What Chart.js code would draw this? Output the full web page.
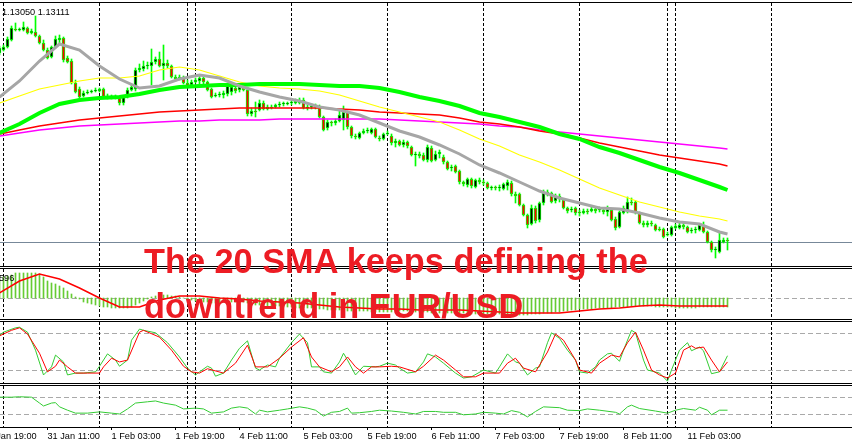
<!DOCTYPE html>
<html><head><meta charset="utf-8">
<script src="https://cdn.jsdelivr.net/npm/chart.js@4.4.1/dist/chart.umd.min.js"></script>
<style>
html,body{margin:0;padding:0;background:#fff;}
#wrap{position:relative;width:852px;height:448px;overflow:hidden;background:#fff;}
canvas{position:absolute;left:0;}
.hl{position:absolute;left:0;width:852px;height:1px;background:#000;}
.lbl{position:absolute;font-family:'Liberation Sans',Arial,sans-serif;font-size:9.2px;line-height:10px;color:#000;white-space:nowrap;}
.big{position:absolute;left:144px;font-family:'Liberation Sans',Arial,sans-serif;font-weight:bold;font-size:34.3px;line-height:34px;color:#ed1c24;white-space:nowrap;}
</style></head>
<body>
<div id="wrap">
<canvas id="cMain" width="852" height="263" style="top:3px"></canvas>
<canvas id="cMacd" width="852" height="50" style="top:269px"></canvas>
<canvas id="cStoch" width="852" height="61" style="top:322px"></canvas>
<canvas id="cRsi" width="852" height="62" style="top:386px"></canvas>
<div class="hl" style="top:2px"></div>
<div class="hl" style="top:266px"></div>
<div class="hl" style="top:268px"></div>
<div class="hl" style="top:319px"></div>
<div class="hl" style="top:321px"></div>
<div class="hl" style="top:383px"></div>
<div class="hl" style="top:385px"></div>
<div class="hl" style="top:427px"></div>
<div class="lbl" style="left:2px;top:7px">1.13050 1.13111</div>
<div class="lbl" style="left:-1px;top:273px">596</div>
<div class="big" style="top:244px">The 20 SMA keeps defining the</div>
<div class="big" style="top:289px">downtrend in EUR/USD</div>
</div>
<script>
// ---- H1 candles (bar 0 = 30 Jan 23:00) ----
const candleOpen = [1.1489,1.1492,1.1495,1.1502,1.1513,1.1512,1.1512,1.1514,1.1509,1.1510,
1.1506,1.1499,1.1492,1.1485,1.1495,1.1502,1.1504,1.1484,1.1481,1.1459,
1.1453,1.1446,1.1449,1.1450,1.1451,1.1451,1.1453,1.1445,1.1446,1.1445,
1.1445,1.1439,1.1445,1.1452,1.1453,1.1472,1.1473,1.1476,1.1476,1.1480,
1.1483,1.1476,1.1479,1.1476,1.1465,1.1463,1.1465,1.1459,1.1457,1.1460,
1.1461,1.1464,1.1460,1.1453,1.1446,1.1447,1.1447,1.1448,1.1450,1.1454,
1.1452,1.1456,1.1452,1.1428,1.1431,1.1432,1.1439,1.1433,1.1435,1.1435,
1.1437,1.1438,1.1438,1.1439,1.1439,1.1439,1.1442,1.1434,1.1435,1.1436,
1.1435,1.1425,1.1414,1.1420,1.1419,1.1421,1.1422,1.1430,1.1415,1.1406,
1.1404,1.1409,1.1411,1.1409,1.1413,1.1404,1.1403,1.1408,1.1406,1.1399,
1.1401,1.1397,1.1400,1.1395,1.1387,1.1388,1.1387,1.1382,1.1394,1.1382,
1.1388,1.1385,1.1380,1.1374,1.1376,1.1371,1.1360,1.1357,1.1363,1.1355,
1.1362,1.1360,1.1359,1.1354,1.1355,1.1354,1.1353,1.1356,1.1359,1.1348,
1.1348,1.1337,1.1327,1.1318,1.1334,1.1322,1.1339,1.1350,1.1349,1.1341,
1.1346,1.1342,1.1334,1.1332,1.1334,1.1330,1.1329,1.1331,1.1331,1.1333,
1.1332,1.1332,1.1330,1.1332,1.1323,1.1315,1.1329,1.1330,1.1340,1.1340,
1.1329,1.1319,1.1317,1.1319,1.1317,1.1313,1.1313,1.1307,1.1307,1.1314,
1.1314,1.1317,1.1315,1.1311,1.1312,1.1312,1.1316,1.1310,1.1300,1.1292,
1.1290,1.1300,1.1302];
const candleHigh = [1.1496,1.1497,1.1505,1.1516,1.1519,1.1514,1.1520,1.1515,1.1513,1.1526,
1.1507,1.1502,1.1494,1.1496,1.1506,1.1507,1.1505,1.1486,1.1483,1.1462,
1.1455,1.1451,1.1452,1.1452,1.1454,1.1454,1.1454,1.1448,1.1447,1.1447,
1.1446,1.1446,1.1454,1.1457,1.1474,1.1478,1.1481,1.1480,1.1493,1.1485,
1.1490,1.1497,1.1482,1.1477,1.1467,1.1467,1.1466,1.1462,1.1462,1.1464,
1.1467,1.1466,1.1461,1.1454,1.1449,1.1450,1.1451,1.1458,1.1457,1.1456,
1.1458,1.1458,1.1454,1.1434,1.1440,1.1442,1.1441,1.1437,1.1437,1.1438,
1.1440,1.1440,1.1440,1.1441,1.1443,1.1444,1.1444,1.1437,1.1438,1.1438,
1.1437,1.1426,1.1422,1.1421,1.1423,1.1432,1.1436,1.1431,1.1416,1.1408,
1.1410,1.1413,1.1414,1.1414,1.1414,1.1406,1.1409,1.1411,1.1408,1.1403,
1.1402,1.1402,1.1401,1.1396,1.1390,1.1390,1.1389,1.1397,1.1396,1.1391,
1.1392,1.1387,1.1381,1.1377,1.1377,1.1372,1.1361,1.1364,1.1364,1.1363,
1.1364,1.1362,1.1360,1.1356,1.1356,1.1357,1.1359,1.1362,1.1361,1.1350,
1.1349,1.1338,1.1328,1.1337,1.1336,1.1340,1.1352,1.1352,1.1350,1.1348,
1.1348,1.1343,1.1335,1.1335,1.1335,1.1332,1.1333,1.1333,1.1335,1.1334,
1.1335,1.1334,1.1336,1.1333,1.1325,1.1331,1.1336,1.1345,1.1344,1.1341,
1.1330,1.1321,1.1321,1.1321,1.1318,1.1315,1.1314,1.1310,1.1316,1.1318,
1.1319,1.1319,1.1316,1.1314,1.1315,1.1318,1.1320,1.1311,1.1301,1.1295,
1.1310,1.1304,1.1304];
const candleLow = [1.1487,1.1491,1.1494,1.1501,1.1511,1.1511,1.1511,1.1508,1.1508,1.1505,
1.1498,1.1491,1.1483,1.1484,1.1494,1.1499,1.1480,1.1479,1.1458,1.1449,
1.1443,1.1445,1.1448,1.1449,1.1450,1.1450,1.1444,1.1443,1.1443,1.1443,
1.1437,1.1437,1.1444,1.1451,1.1451,1.1470,1.1471,1.1473,1.1457,1.1478,
1.1475,1.1462,1.1474,1.1464,1.1461,1.1462,1.1458,1.1454,1.1456,1.1459,
1.1458,1.1458,1.1451,1.1444,1.1445,1.1445,1.1444,1.1446,1.1447,1.1449,
1.1450,1.1451,1.1426,1.1426,1.1425,1.1431,1.1432,1.1432,1.1433,1.1434,
1.1435,1.1436,1.1437,1.1437,1.1438,1.1438,1.1433,1.1432,1.1433,1.1433,
1.1424,1.1411,1.1412,1.1416,1.1417,1.1420,1.1412,1.1413,1.1404,1.1403,
1.1403,1.1408,1.1409,1.1408,1.1404,1.1401,1.1402,1.1407,1.1397,1.1395,
1.1396,1.1395,1.1394,1.1386,1.1376,1.1384,1.1381,1.1380,1.1380,1.1381,
1.1384,1.1378,1.1372,1.1371,1.1369,1.1358,1.1356,1.1355,1.1354,1.1354,
1.1358,1.1357,1.1353,1.1352,1.1352,1.1351,1.1352,1.1352,1.1346,1.1339,
1.1336,1.1326,1.1314,1.1317,1.1319,1.1320,1.1337,1.1346,1.1339,1.1339,
1.1340,1.1333,1.1329,1.1330,1.1327,1.1326,1.1328,1.1328,1.1330,1.1329,
1.1330,1.1328,1.1326,1.1321,1.1312,1.1314,1.1328,1.1329,1.1337,1.1328,
1.1318,1.1315,1.1315,1.1316,1.1311,1.1311,1.1304,1.1306,1.1306,1.1313,
1.1313,1.1313,1.1309,1.1309,1.1309,1.1311,1.1309,1.1299,1.1290,1.1284,
1.1289,1.1299,1.1292];
const candleClose = [1.1494,1.1495,1.1503,1.1514,1.1512,1.1513,1.1515,1.1509,1.1511,1.1506,
1.1499,1.1492,1.1484,1.1495,1.1503,1.1504,1.1482,1.1480,1.1459,1.1450,
1.1445,1.1449,1.1450,1.1451,1.1452,1.1453,1.1445,1.1446,1.1445,1.1444,
1.1439,1.1445,1.1452,1.1455,1.1472,1.1474,1.1476,1.1477,1.1480,1.1483,
1.1476,1.1479,1.1476,1.1465,1.1463,1.1465,1.1459,1.1456,1.1460,1.1462,
1.1464,1.1460,1.1452,1.1445,1.1447,1.1448,1.1449,1.1456,1.1455,1.1451,
1.1455,1.1452,1.1428,1.1431,1.1430,1.1439,1.1433,1.1435,1.1434,1.1437,
1.1438,1.1439,1.1439,1.1439,1.1441,1.1442,1.1434,1.1435,1.1436,1.1435,
1.1425,1.1412,1.1420,1.1419,1.1421,1.1427,1.1430,1.1415,1.1406,1.1405,
1.1409,1.1411,1.1412,1.1413,1.1405,1.1403,1.1408,1.1409,1.1399,1.1401,
1.1397,1.1400,1.1396,1.1387,1.1388,1.1386,1.1382,1.1395,1.1381,1.1388,
1.1390,1.1380,1.1373,1.1375,1.1370,1.1360,1.1358,1.1363,1.1356,1.1362,
1.1360,1.1359,1.1354,1.1355,1.1354,1.1355,1.1358,1.1360,1.1348,1.1346,
1.1337,1.1327,1.1317,1.1334,1.1321,1.1339,1.1350,1.1348,1.1340,1.1346,
1.1343,1.1334,1.1331,1.1333,1.1329,1.1329,1.1331,1.1330,1.1333,1.1331,
1.1333,1.1330,1.1333,1.1322,1.1314,1.1330,1.1334,1.1340,1.1339,1.1329,
1.1319,1.1317,1.1319,1.1318,1.1312,1.1312,1.1305,1.1308,1.1315,1.1316,
1.1317,1.1315,1.1310,1.1312,1.1313,1.1317,1.1310,1.1300,1.1292,1.1293,
1.1302,1.1302,1.1301];

// ---- moving averages, sampled at these bars ----
const maBars = [0,5,10,15,20,25,30,35,40,45,50,55,60,65,70,75,80,85,90,95,100,105,110,115,120,125,130,135,140,145,150,155,160,165,170,175,180,182];
const sma20 = [1.1445,1.1461,1.1481,1.1498,1.1492,1.1476,1.1463,1.1454,1.1456,1.1463,1.1467,1.1464,1.1456,1.1450,1.1445,1.1441,1.1435,1.1432,1.1427,1.1419,1.1411,1.1405,1.1397,1.1388,1.1377,1.1369,1.1360,1.1351,1.1344,1.1339,1.1334,1.1333,1.1329,1.1324,1.1320,1.1318,1.1310,1.1308];
const maYellow = [1.1439,1.1446,1.1453,1.1457,1.1461,1.1464,1.1464,1.1466,1.1472,1.1475,1.1472,1.1466,1.1460,1.1456,1.1454,1.1453,1.1451,1.1447,1.1441,1.1435,1.1430,1.1425,1.1420,1.1412,1.1403,1.1396,1.1387,1.1380,1.1372,1.1363,1.1354,1.1347,1.1340,1.1335,1.1330,1.1326,1.1323,1.1321];
const maGreen = [1.1409,1.1418,1.1429,1.1438,1.1442,1.1444,1.1445,1.1448,1.1452,1.1455,1.1456,1.1457,1.1457,1.1458,1.1458,1.1458,1.1457,1.1456,1.1456,1.1454,1.1450,1.1445,1.1441,1.1436,1.1429,1.1425,1.1420,1.1415,1.1408,1.1403,1.1395,1.1389,1.1382,1.1375,1.1369,1.1362,1.1355,1.1352];
const maRed = [1.1408,1.1412,1.1416,1.1419,1.1422,1.1424,1.1426,1.1428,1.1430,1.1431,1.1432,1.1433,1.1434,1.1434,1.1434,1.1434,1.1434,1.1433,1.1432,1.1430,1.1429,1.1428,1.1427,1.1424,1.1420,1.1418,1.1415,1.1411,1.1408,1.1404,1.1399,1.1395,1.1391,1.1387,1.1384,1.1381,1.1378,1.1376];
const maMagenta = [1.1406,1.1409,1.1412,1.1414,1.1416,1.1417,1.1418,1.1419,1.1420,1.1421,1.1421,1.1422,1.1422,1.1422,1.1423,1.1423,1.1423,1.1423,1.1423,1.1423,1.1422,1.1421,1.1420,1.1419,1.1418,1.1416,1.1415,1.1412,1.1410,1.1408,1.1406,1.1404,1.1402,1.1400,1.1398,1.1396,1.1394,1.1393];
const bidPrice = 1.1300;

// ---- MACD ----
const macdHist = [0.00038,0.00042,0.00044,0.00046,0.0005,0.0005,0.0005,0.0005,0.0005,0.0005,
0.00048,0.00042,0.00034,0.0003,0.00028,0.00024,0.0002,0.00014,0.00008,0.00002,
-0.00002,-0.00008,-0.0001,-0.00012,-0.00014,-0.00016,-0.00018,-0.00018,-0.0002,-0.0002,
-0.0002,-0.0002,-0.0002,-0.00018,-0.00014,-0.0001,-0.00006,-0.00002,0.00002,0.00004,
0.00006,0.00006,0.00006,0.00004,0.00004,0.00002,0,-0.00002,-0.00004,-0.00006,
-0.00008,-0.00008,-0.00008,-0.0001,-0.0001,-0.0001,-0.00008,-0.00008,-0.00008,-0.00008,
-0.00008,-0.00008,-0.0001,-0.00012,-0.00014,-0.00014,-0.00014,-0.00016,-0.00016,-0.00016,
-0.00016,-0.00018,-0.00018,-0.00018,-0.0002,-0.0002,-0.0002,-0.0002,-0.0002,-0.00022,
-0.00022,-0.00022,-0.00024,-0.00024,-0.00024,-0.00024,-0.00024,-0.00026,-0.00026,-0.00026,
-0.00026,
-0.00026,-0.00026,-0.00028,-0.00028,-0.00028,-0.00028,-0.00028,-0.00028,-0.00028,-0.00026,
-0.00026,-0.00026,-0.00026,-0.00028,-0.00028,-0.00028,-0.00028,-0.0003,-0.0003,-0.0003,
-0.0003,-0.0003,-0.0003,-0.0003,-0.0003,-0.0003,-0.0003,-0.00032,-0.00032,-0.00032,
-0.00032,-0.00032,-0.00032,-0.00032,-0.00032,-0.00032,-0.00032,-0.00034,-0.00034,-0.00034,
-0.00034,-0.00034,-0.00032,-0.00032,-0.00032,-0.0003,-0.0003,-0.0003,-0.00028,-0.00028,-0.00026,-0.00026,-0.00024,-0.00024,-0.00022,
-0.00022,-0.00022,-0.00022,-0.0002,-0.0002,-0.0002,-0.0002,-0.0002,-0.00018,-0.00018,
-0.00018,-0.00018,-0.00016,-0.00016,-0.00016,-0.00016,-0.00016,-0.00016,-0.00018,-0.00018,
-0.00018,-0.00018,-0.00018,-0.0002,-0.0002,-0.0002,-0.0002,-0.0002,-0.0002,-0.00018,
-0.00018,-0.00018,-0.00018,-0.00018,-0.00018,-0.00018,-0.00018];
const macdSignal = [0.0001,0.00034,0.00048,0.00038,0.0002,0,-0.00018,-0.00018,-0.00004,0.00004,0.00004,0,-0.00002,-0.00006,-0.00008,-0.0001,-0.00014,-0.00018,-0.0002,-0.00022,-0.00022,-0.00024,-0.00024,-0.00024,-0.00026,-0.00028,-0.0003,-0.0003,-0.0003,-0.00026,-0.00022,-0.0002,-0.00016,-0.00014,-0.00016,-0.00016,-0.00016,-0.00016];

// ---- Stochastic ----
const stochMainBars = [0,1,4,5,7,9,11,13,14,16,17,19,21,24,25,27,29,30,32,33,35,36,39,42,45,47,49,50,52,53,54,56,58,60,62,64,65,67,69,70,73,75,77,78,80,81,83,85,86,87,89,91,94,95,97,99,100,102,104,106,107,109,111,114,116,118,121,124,125,127,129,130,132,134,135,137,138,140,142,144,145,147,149,150,152,153,155,156,158,159,161,162,165,167,168,170,172,173,175,176,178,180,182];
const stochMain = [77,82,89,90,82,53,13,26,45,34,13,16,16,18,27,47,37,27,37,69,87,85,81,65,42,24,13,18,27,24,11,16,37,56,68,24,21,29,26,40,65,79,65,26,26,18,16,34,48,37,13,27,26,27,32,29,24,16,18,34,47,42,32,16,8,10,21,16,26,47,34,32,13,24,26,65,81,72,53,37,18,16,26,37,47,48,35,53,85,81,37,21,16,3,21,53,65,52,58,52,15,18,44];
const stochSignalBars = [0,3,5,7,10,12,14,15,17,19,22,25,26,28,30,32,35,36,40,43,46,48,50,52,56,59,62,64,67,70,73,76,78,80,83,85,87,89,91,93,95,98,100,104,106,109,111,114,116,119,121,125,127,129,131,134,137,139,141,144,145,148,150,153,155,157,159,161,163,165,167,169,171,173,174,176,178,180,182];
const stochSignal = [76,85,89,79,48,18,27,37,26,16,16,16,26,40,34,37,82,85,74,53,27,18,16,23,16,32,61,26,26,40,58,73,42,26,18,26,42,26,16,26,26,27,26,18,27,45,37,21,10,10,16,16,32,40,24,18,50,79,69,37,21,16,32,45,42,65,82,53,21,13,8,16,53,60,56,58,37,18,34];

// ---- RSI ----
const rsiBars = [0,3,5,8,10,11,13,14,15,17,19,22,25,28,30,32,34,37,39,41,44,46,49,51,53,56,58,60,62,64,65,67,70,72,75,77,79,81,83,85,87,88,90,93,95,98,101,104,106,109,111,114,116,119,121,124,126,128,130,132,134,136,140,142,145,147,150,154,155,157,158,160,164,167,169,171,174,175,177,178,180,182];
const rsiValues = [71,71,72,71,57,50,57,58,48,40,33,33,36,33,31,43,57,60,62,57,52,43,45,43,33,36,45,48,45,31,40,36,40,43,48,45,40,26,35,37,45,33,34,37,40,38,35,31,37,37,35,35,29,31,35,33,31,39,35,24,37,48,46,40,39,43,40,35,31,48,52,44,38,33,40,44,40,47,40,29,40,40];

// ---- time axis ----
const separatorBars = [1,25,47,49,73,97,121,145,167,169,193];
const tickBars = [-4,12,28,44,60,76,92,108,124,140,156,172];
const tickLabels = ['30 Jan 19:00','31 Jan 11:00','1 Feb 03:00','1 Feb 19:00','4 Feb 11:00','5 Feb 03:00','5 Feb 19:00','6 Feb 11:00','7 Feb 03:00','7 Feb 19:00','8 Feb 11:00','11 Feb 03:00'];

const X_MIN = 0.125, X_MAX = 213.125;
const barIdx = candleOpen.map((_, i) => i);
const pts = (xs, ys) => xs.map((b, k) => ({x: b, y: ys[k]}));

const paneDecor = {
  id: 'paneDecor',
  beforeDatasetsDraw(chart, args, opts) {
    const {ctx, chartArea: a, scales} = chart;
    const x = scales.x, y = scales.y;
    ctx.save();
    ctx.beginPath(); ctx.rect(a.left, a.top, a.right - a.left, a.bottom - a.top); ctx.clip();
    ctx.lineWidth = 1;
    (opts.levels || []).forEach(v => {
      const py = Math.floor(y.getPixelForValue(v)) + 0.5;
      ctx.strokeStyle = '#a9a9a9'; ctx.setLineDash([5, 3]);
      ctx.beginPath(); ctx.moveTo(a.left, py); ctx.lineTo(a.right, py); ctx.stroke();
    });
    if (opts.bid !== undefined) {
      const py = Math.floor(y.getPixelForValue(opts.bid)) + 0.5;
      ctx.setLineDash([]); ctx.strokeStyle = '#778899';
      ctx.beginPath(); ctx.moveTo(a.left, py); ctx.lineTo(a.right, py); ctx.stroke();
    }
    ctx.strokeStyle = '#000'; ctx.setLineDash([3, 2]);
    separatorBars.forEach(b => {
      const px = Math.floor(x.getPixelForValue(b)) + 0.5;
      ctx.beginPath(); ctx.moveTo(px, a.top); ctx.lineTo(px, a.bottom); ctx.stroke();
    });
    ctx.restore();
  }
};

const hiddenX = {type: 'linear', min: X_MIN, max: X_MAX, offset: false, display: false};
const baseOpts = (yMin, yMax, decor) => ({
  responsive: false, animation: false, events: [],
  layout: {padding: 0},
  plugins: {legend: {display: false}, tooltip: {enabled: false}, paneDecor: decor},
  scales: {x: hiddenX, y: {min: yMin, max: yMax, display: false}}
});
const lineDs = (data, color, width, order) => ({type: 'line', data, borderColor: color, borderWidth: width, pointRadius: 0, tension: 0, fill: false, order});

new Chart(document.getElementById('cMain'), {
  type: 'bar',
  data: {datasets: [
    lineDs(pts(maBars, sma20), '#a6a6a6', 3, 0),
    lineDs(pts(maBars, maGreen), '#00ff00', 4, 1),
    lineDs(pts(maBars, maYellow), '#ffff00', 1.2, 2),
    lineDs(pts(maBars, maRed), '#ff0000', 1.5, 3),
    lineDs(pts(maBars, maMagenta), '#ff00ff', 1.5, 4),
    {data: barIdx.map(i => ({x: i, y: [candleOpen[i], candleClose[i]]})),
     backgroundColor: barIdx.map(i => candleClose[i] >= candleOpen[i] ? '#000000' : '#ff0000'),
     borderColor: '#00ff00', borderWidth: 1, borderSkipped: false, barThickness: 3, grouped: false, minBarLength: 1, order: 5},
    {data: barIdx.map(i => ({x: i, y: [candleLow[i], candleHigh[i]]})),
     backgroundColor: '#00ff00', borderWidth: 0, barThickness: 1, grouped: false, order: 6}
  ]},
  options: baseOpts(1.1276, 1.1539, {bid: bidPrice}),
  plugins: [paneDecor]
});

new Chart(document.getElementById('cMacd'), {
  type: 'bar',
  data: {datasets: [
    lineDs(pts(maBars, macdSignal), '#ff0000', 1.5, 0),
    {data: barIdx.map(i => ({x: i, y: macdHist[i]})), backgroundColor: '#66cc33', borderWidth: 0, barThickness: 1, grouped: false, order: 1}
  ]},
  options: baseOpts(-0.00042, 0.00058, {levels: [0]}),
  plugins: [paneDecor]
});

new Chart(document.getElementById('cStoch'), {
  type: 'line',
  data: {datasets: [
    lineDs(pts(stochSignalBars, stochSignal), '#ff0000', 1, 0),
    lineDs(pts(stochMainBars, stochMain), '#33cc33', 1, 1)
  ]},
  options: baseOpts(0, 98.4, {levels: [20, 80]}),
  plugins: [paneDecor]
});

const rsiOpts = baseOpts(0, 97.6, {levels: [30, 70]});
rsiOpts.scales.x = {
  type: 'linear', min: X_MIN, max: X_MAX, offset: false, position: 'bottom',
  afterBuildTicks: s => { s.ticks = tickBars.map(v => ({value: v})); },
  afterFit: s => { s.height = 21; s.paddingLeft = 0; s.paddingRight = 0; },
  grid: {display: true, drawOnChartArea: false, drawTicks: true, tickLength: 3, color: '#000', lineWidth: 1},
  border: {display: true, color: '#000', width: 1},
  ticks: {autoSkip: false, maxRotation: 0, minRotation: 0, align: 'start', padding: 1, color: '#000',
    font: {family: "'Liberation Sans',Arial", size: 9.2},
    callback: (v, i) => tickLabels[i]}
};
new Chart(document.getElementById('cRsi'), {
  type: 'line',
  data: {datasets: [lineDs(pts(rsiBars, rsiValues), '#33cc33', 1, 0)]},
  options: rsiOpts,
  plugins: [paneDecor]
});
</script>
</body></html>
